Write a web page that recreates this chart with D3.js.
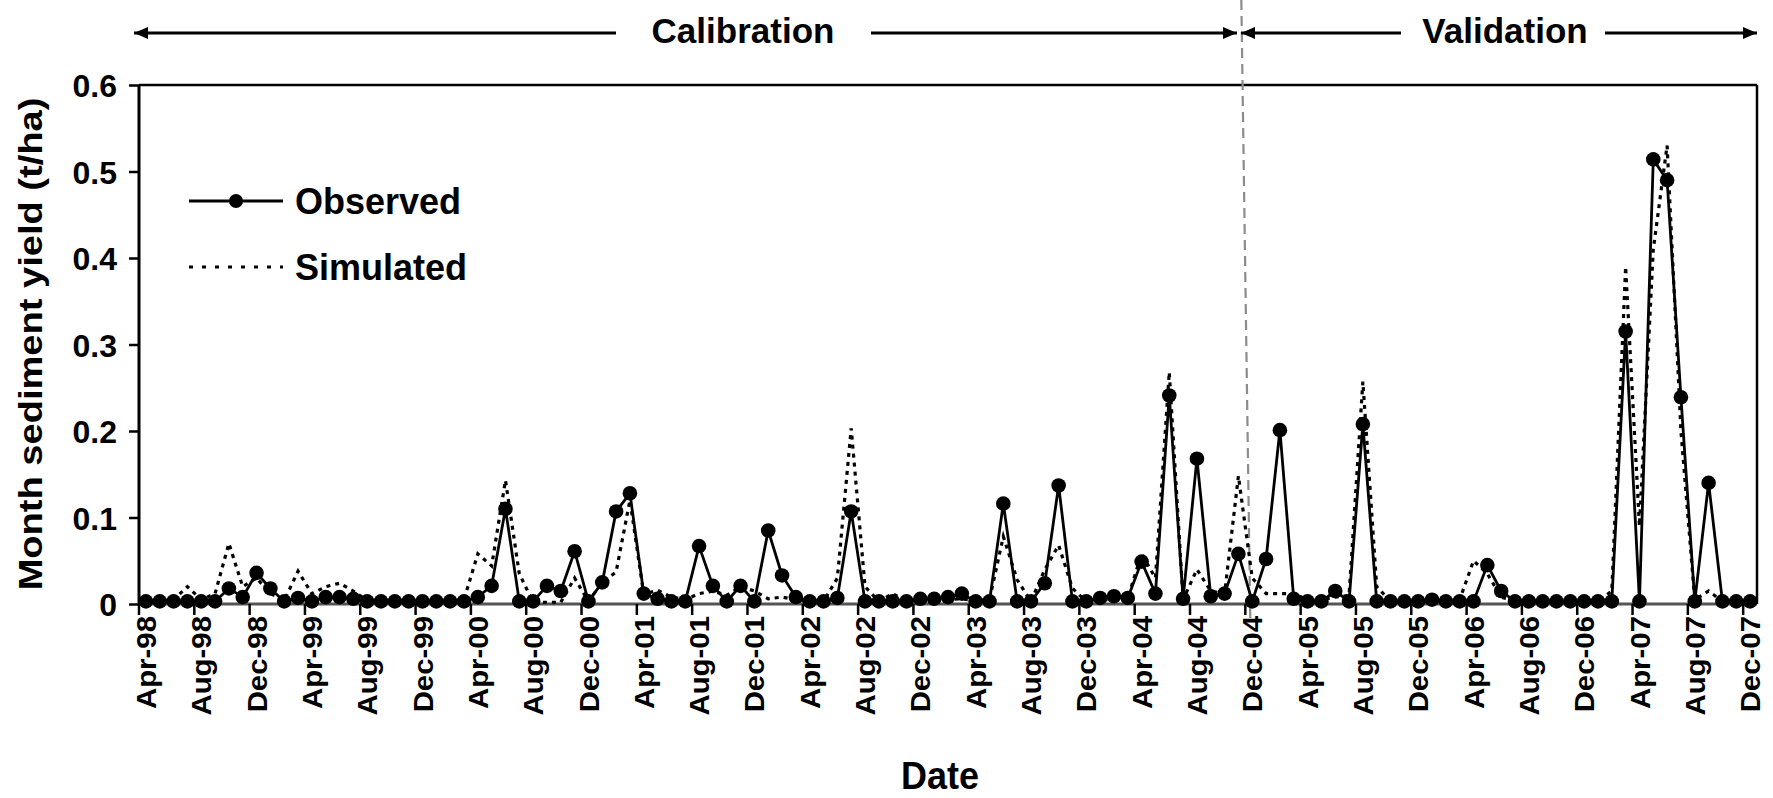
<!DOCTYPE html>
<html>
<head>
<meta charset="utf-8">
<script src="https://cdn.jsdelivr.net/npm/d3@7"></script>
<style>
  html, body { margin: 0; padding: 0; background: #fff; }
  svg text { font-family: "Liberation Sans", Arial, Helvetica, sans-serif; font-weight: bold; fill: #000; }
</style>
</head>
<body>
<svg id="chart" width="1773" height="798"></svg>
<script>
// ---------------- DATA ----------------
const startMonth = new Date(1998, 3, 1);   // Apr-98
const endMonth = new Date(2007, 11, 1);    // Dec-07
const months = d3.timeMonth.range(startMonth, d3.timeMonth.offset(endMonth, 1));

const tickLabels = ["Apr-98","Aug-98","Dec-98","Apr-99","Aug-99","Dec-99","Apr-00","Aug-00","Dec-00",
  "Apr-01","Aug-01","Dec-01","Apr-02","Aug-02","Dec-02","Apr-03","Aug-03","Dec-03","Apr-04","Aug-04",
  "Dec-04","Apr-05","Aug-05","Dec-05","Apr-06","Aug-06","Dec-06","Apr-07","Aug-07","Dec-07"];

const observed = [
  0.003,0.003,0.003,0.003,0.003,0.003,0.018,0.008,0.036,0.018,   // Apr-98 .. Jan-99
  0.003,0.007,0.003,0.008,0.008,0.006,0.003,0.003,0.003,0.003,   // Feb-99 .. Nov-99
  0.003,0.003,0.003,0.003,0.008,0.021,0.110,0.003,0.003,0.021,   // Dec-99 .. Sep-00
  0.015,0.061,0.003,0.025,0.107,0.128,0.012,0.006,0.003,0.003,   // Oct-00 .. Jul-01
  0.067,0.021,0.003,0.021,0.003,0.085,0.033,0.008,0.003,0.003,   // Aug-01 .. May-02
  0.007,0.107,0.003,0.003,0.003,0.003,0.006,0.006,0.008,0.012,   // Jun-02 .. Mar-03
  0.003,0.003,0.116,0.003,0.003,0.024,0.137,0.003,0.003,0.007,   // Apr-03 .. Jan-04
  0.009,0.007,0.049,0.012,0.241,0.006,0.168,0.009,0.012,0.058,   // Feb-04 .. Nov-04
  0.003,0.052,0.201,0.006,0.003,0.003,0.015,0.003,0.208,0.003,   // Dec-04 .. Sep-05
  0.003,0.003,0.003,0.005,0.003,0.003,0.003,0.045,0.015,0.003,   // Oct-05 .. Jul-06
  0.003,0.003,0.003,0.003,0.003,0.003,0.003,0.315,0.003,0.514,   // Aug-06 .. May-07
  0.490,0.239,0.003,0.140,0.003,0.003,0.003                      // Jun-07 .. Dec-07
];

const simulated = [
  0.003,0.003,0.005,0.020,0.005,0.012,0.070,0.020,0.030,0.012,
  0.004,0.038,0.012,0.020,0.024,0.015,0.004,0.003,0.003,0.003,
  0.003,0.003,0.003,0.005,0.058,0.044,0.143,0.035,0.002,0.002,
  0.002,0.030,0.003,0.025,0.037,0.120,0.011,0.016,0.008,0.005,
  0.012,0.015,0.010,0.020,0.015,0.006,0.008,0.005,0.003,0.003,
  0.030,0.203,0.020,0.003,0.012,0.003,0.005,0.005,0.005,0.006,
  0.004,0.005,0.078,0.028,0.003,0.040,0.068,0.018,0.003,0.005,
  0.005,0.007,0.058,0.030,0.268,0.005,0.040,0.015,0.012,0.148,
  0.030,0.012,0.012,0.012,0.005,0.005,0.008,0.010,0.257,0.020,
  0.003,0.003,0.003,0.003,0.003,0.005,0.050,0.035,0.008,0.003,
  0.003,0.003,0.003,0.003,0.003,0.003,0.015,0.390,0.090,0.410,
  0.530,0.200,0.005,0.015,0.003,0.003,0.003
];

const yTicks = [0, 0.1, 0.2, 0.3, 0.4, 0.5, 0.6];
const seriesNames = ["Observed", "Simulated"];
const periodNames = ["Calibration", "Validation"];
const validationStart = "Dec-04";

// ---------------- LAYOUT ----------------
const fmtMonth = d3.timeFormat("%b-%y");
const cats = months.map(fmtMonth);
const L = 139, R = 1757, T = 85, B = 604;

const svg = d3.select("#chart");

const x = d3.scaleBand().domain(cats).range([L, R]).paddingInner(0).paddingOuter(0);
const bw = x.bandwidth();
const cx = c => x(c) + bw / 2;
const y = d3.scaleLinear().domain([0, 0.6]).range([B, T]);

// frame top & right
svg.append("line").attr("x1", L).attr("x2", R).attr("y1", T).attr("y2", T)
  .attr("stroke", "#000").attr("stroke-width", 2.5);
svg.append("line").attr("x1", R).attr("x2", R).attr("y1", T).attr("y2", B)
  .attr("stroke", "#000").attr("stroke-width", 2.5);

// Y axis
const yAxis = svg.append("g").attr("transform", `translate(${L},0)`)
  .call(d3.axisLeft(y).tickValues(yTicks).tickSize(10).tickPadding(12)
    .tickFormat(d => d === 0 ? "0" : d3.format(".1f")(d)));
yAxis.select(".domain").attr("stroke", "#000").attr("stroke-width", 3).attr("d", `M0,${T}V${B}`);
yAxis.selectAll(".tick line").attr("stroke", "#000").attr("stroke-width", 2.5);
yAxis.selectAll(".tick text").style("font-size", "32px").attr("dy", "0.36em");

// X axis: tick marks at month boundaries every 4 months
const tickIdx = cats.map((c, i) => i).filter(i => i % 4 === 0);
const xAxisG = svg.append("g");
xAxisG.append("line").attr("x1", L).attr("x2", R).attr("y1", B).attr("y2", B)
  .attr("stroke", "#555").attr("stroke-width", 3);
xAxisG.selectAll("line.tk").data(tickIdx).join("line").attr("class", "tk")
  .attr("x1", i => x(cats[i])).attr("x2", i => x(cats[i]))
  .attr("y1", B).attr("y2", B + 11).attr("stroke", "#000").attr("stroke-width", 2.5);

// X tick labels
const labelData = tickLabels.filter(l => cats.includes(l));
xAxisG.selectAll("text.xl").data(labelData).join("text").attr("class", "xl")
  .attr("transform", d => `translate(${cx(d)},${B + 12}) rotate(-90) scale(1.05,1)`)
  .attr("text-anchor", "end").attr("dy", "0.36em")
  .style("font-size", "28px").text(d => d);

// divider between calibration and validation
const xv = x(validationStart);
svg.append("line").attr("x1", xv - 4).attr("y1", 0).attr("x2", xv + 5).attr("y2", B + 18)
  .attr("stroke", "#8c8c8c").attr("stroke-width", 2.2).attr("stroke-dasharray", "10,6");

// Simulated (dotted) line
const line = d3.line().x((d, i) => cx(cats[i])).y(d => y(d));
svg.append("path").datum(simulated).attr("d", line)
  .attr("fill", "none").attr("stroke", "#000").attr("stroke-width", 3.2)
  .attr("stroke-dasharray", "4,5");

// Observed line + markers
svg.append("path").datum(observed).attr("d", line)
  .attr("fill", "none").attr("stroke", "#000").attr("stroke-width", 2.8);
svg.selectAll("circle.obs").data(observed).join("circle").attr("class", "obs")
  .attr("cx", (d, i) => cx(cats[i])).attr("cy", d => y(d)).attr("r", 7.3).attr("fill", "#000");

// Legend
const lg = svg.append("g");
lg.append("line").attr("x1", 189).attr("x2", 283).attr("y1", 201).attr("y2", 201)
  .attr("stroke", "#000").attr("stroke-width", 2.8);
lg.append("circle").attr("cx", 236).attr("cy", 201).attr("r", 7).attr("fill", "#000");
lg.append("text").attr("x", 295).attr("y", 214).style("font-size", "36px").text(seriesNames[0]);
lg.append("line").attr("x1", 189).attr("x2", 283).attr("y1", 267).attr("y2", 267)
  .attr("stroke", "#000").attr("stroke-width", 3.2).attr("stroke-dasharray", "4,9");
lg.append("text").attr("x", 295).attr("y", 280).style("font-size", "36px").text(seriesNames[1]);

// Period arrows
const ay = 33;
function arrowLine(x1, x2, tipAt) {
  svg.append("line").attr("x1", x1).attr("x2", x2).attr("y1", ay).attr("y2", ay)
    .attr("stroke", "#000").attr("stroke-width", 3);
  const tx = tipAt === "left" ? x1 : x2;
  const dir = tipAt === "left" ? 1 : -1;
  svg.append("path")
    .attr("d", `M${tx},${ay} L${tx + dir * 14},${ay - 6} L${tx + dir * 14},${ay + 6} Z`)
    .attr("fill", "#000");
}
arrowLine(134, 616, "left");
arrowLine(871, 1237, "right");
arrowLine(1241, 1401, "left");
arrowLine(1605, 1757, "right");
svg.append("text").attr("x", 743).attr("y", 43).attr("text-anchor", "middle")
  .style("font-size", "35px").text(periodNames[0]);
svg.append("text").attr("x", 1505).attr("y", 43).attr("text-anchor", "middle")
  .style("font-size", "35px").text(periodNames[1]);

// Axis titles
svg.append("text").attr("transform", "translate(42,344) rotate(-90) scale(1.12,1)")
  .attr("text-anchor", "middle").style("font-size", "34px").text("Month sediment yield (t/ha)");
svg.append("text").attr("transform", "translate(940,789) scale(1,1.08)")
  .attr("text-anchor", "middle").style("font-size", "36px").text("Date");
</script>
</body>
</html>
